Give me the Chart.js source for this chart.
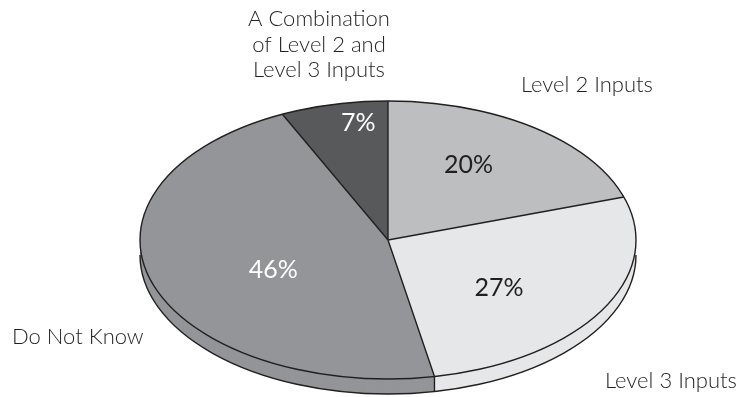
<!DOCTYPE html>
<html>
<head>
<meta charset="utf-8">
<script src="https://cdn.jsdelivr.net/npm/chart.js"></script>
<style>
  html, body { margin: 0; padding: 0; background: #fff; }
  #pie { display: block; }
</style>
</head>
<body>
<canvas id="pie" width="740" height="397"></canvas>
<script>
// Valores del gráfico
const categorias = [
  ['Level 2 Inputs'],
  ['Level 3 Inputs'],
  ['Do Not Know'],
  ['A Combination', 'of Level 2 and', 'Level 3 Inputs']
];
const porcentajes = [20, 27, 46, 7];

// Estilo
const colores = ['#bcbec0', '#e6e7e8', '#939598', '#58595b'];
const coloresTexto = ['#231f20', '#231f20', '#ffffff', '#ffffff'];
const RX = 248;      // radio horizontal de la elipse
const RY = 139;      // radio vertical
const GROSOR = 15;   // altura del lateral
const FUENTE = 'Lato, "Open Sans", sans-serif';
// posición de cada porcentaje: [fracción del radio, giro en grados sobre el centro del sector]
const posPorcentaje = [[0.63, -5], [0.565, 7], [0.51, -7], [0.85, 4.5]];
// posición de los nombres: x, y del centro de la primera línea, alineación
const posNombres = [
  { x: 521, y: 85, align: 'left' },
  { x: 605, y: 381, align: 'left' },
  { x: 12, y: 337, align: 'left' },
  { x: 319, y: 19, align: 'center' }
];
const interlineado = 25.5;

// Aplana el círculo de Chart.js en una elipse
function aplanar(ctx, arc, dy) {
  ctx.translate(arc.x, arc.y + dy);
  ctx.scale(RX / arc.outerRadius, RY / arc.outerRadius);
  ctx.translate(-arc.x, -arc.y);
}

const pastel3d = {
  id: 'pastel3d',
  beforeDatasetsDraw(chart) {
    const ctx = chart.ctx;
    const arcs = chart.getDatasetMeta(0).data;
    // lateral: repinta cada sector desplazado hacia abajo
    for (let d = GROSOR; d >= 1; d--) {
      arcs.forEach(arc => {
        ctx.save();
        aplanar(ctx, arc, d);
        arc.draw(ctx);
        ctx.restore();
      });
    }
    // la cara superior la dibuja Chart.js con la misma transformación
    ctx.save();
    aplanar(ctx, arcs[0], 0);
  },
  afterDatasetsDraw(chart) {
    const ctx = chart.ctx;
    ctx.restore();
    const arcs = chart.getDatasetMeta(0).data;
    const cx = arcs[0].x, cy = arcs[0].y;

    ctx.save();
    ctx.strokeStyle = '#231f20';
    ctx.lineWidth = 1.4;
    ctx.lineJoin = 'round';

    // borde inferior del lateral
    ctx.beginPath();
    ctx.ellipse(cx, cy + GROSOR, RX, RY, 0, 0, Math.PI);
    ctx.stroke();

    // contorno de la cara superior
    ctx.beginPath();
    ctx.ellipse(cx, cy, RX, RY, 0, 0, Math.PI * 2);
    ctx.stroke();

    // divisiones entre sectores
    arcs.forEach(arc => {
      const a = arc.startAngle;
      const px = cx + RX * Math.cos(a);
      const py = cy + RY * Math.sin(a);
      ctx.beginPath();
      ctx.moveTo(cx, cy);
      ctx.lineTo(px, py);
      if (Math.sin(a) > 0) {
        ctx.lineTo(px, py + GROSOR);
      }
      ctx.stroke();
    });
    ctx.restore();
  },
  afterDraw(chart) {
    const ctx = chart.ctx;
    const arcs = chart.getDatasetMeta(0).data;
    const cx = arcs[0].x, cy = arcs[0].y;
    ctx.save();
    ctx.textBaseline = 'middle';

    // porcentajes dentro de cada sector
    ctx.font = '25px ' + FUENTE;
    ctx.textAlign = 'center';
    arcs.forEach((arc, i) => {
      const [r, giro] = posPorcentaje[i];
      const a = (arc.startAngle + arc.endAngle) / 2 + giro * Math.PI / 180;
      ctx.fillStyle = coloresTexto[i];
      ctx.fillText(porcentajes[i] + '%', cx + RX * r * Math.cos(a), cy + RY * r * Math.sin(a));
    });

    // nombres de las categorías
    ctx.font = '300 22px ' + FUENTE;
    ctx.fillStyle = '#231f20';
    categorias.forEach((lineas, i) => {
      const p = posNombres[i];
      ctx.textAlign = p.align;
      lineas.forEach((txt, j) => ctx.fillText(txt, p.x, p.y + j * interlineado));
    });
    ctx.restore();
  }
};

new Chart(document.getElementById('pie').getContext('2d'), {
  type: 'pie',
  data: {
    labels: categorias.map(l => l.join(' ')),
    datasets: [{
      data: porcentajes,
      backgroundColor: colores,
      borderWidth: 0,
      clip: false
    }]
  },
  options: {
    responsive: false,
    animation: false,
    layout: { padding: { left: 36, top: 83, right: 0, bottom: 0 } },
    plugins: {
      legend: { display: false },
      tooltip: { enabled: false }
    }
  },
  plugins: [pastel3d]
});
</script>
</body>
</html>
